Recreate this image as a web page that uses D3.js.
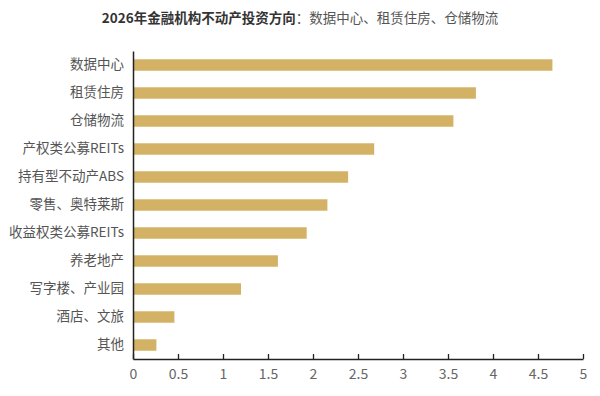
<!DOCTYPE html>
<html>
<head>
<meta charset="utf-8">
<script src="https://cdn.jsdelivr.net/npm/d3@7"></script>
<style>
  body { margin: 0; background: #fff; }
  text { font-family: "Microsoft YaHei", "Noto Sans CJK SC", sans-serif; }
</style>
</head>
<body>
<div id="chart"></div>
<script>
// categories and values
const categories = ["数据中心", "租赁住房", "仓储物流", "产权类公募REITs", "持有型不动产ABS",
  "零售、奥特莱斯", "收益权类公募REITs", "养老地产", "写字楼、产业园", "酒店、文旅", "其他"];
const values = [4.66, 3.81, 3.56, 2.68, 2.39, 2.16, 1.93, 1.61, 1.20, 0.46, 0.26];
const xTicks = [0, 0.5, 1, 1.5, 2, 2.5, 3, 3.5, 4, 4.5, 5];

const width = 600, height = 396;
const margin = { top: 51, right: 17, bottom: 37, left: 133 };

const svg = d3.select("#chart").append("svg")
  .attr("width", width)
  .attr("height", height);

const x = d3.scaleLinear().domain([0, 5]).range([margin.left, width - margin.right]);
const y = d3.scaleBand().domain(categories)
  .range([margin.top, height - margin.bottom])
  .paddingInner(0.59).paddingOuter(0.295);

// title
const title = svg.append("text")
  .attr("x", 300).attr("y", 23)
  .attr("text-anchor", "middle")
  .style("font-size", "13.5px");
title.append("tspan").attr("font-weight", "bold").attr("fill", "#333").text("2026年金融机构不动产投资方向");
title.append("tspan").attr("fill", "#555").text("：数据中心、租赁住房、仓储物流");

// bars
svg.selectAll(".bar")
  .data(categories)
  .enter()
  .append("rect")
  .attr("class", "bar")
  .attr("x", x(0))
  .attr("y", d => y(d))
  .attr("width", (d, i) => x(values[i]) - x(0))
  .attr("height", y.bandwidth())
  .attr("fill", "#d3b266");

// x axis, ticks pointing up
const xAxis = svg.append("g")
  .attr("transform", `translate(0,${height - margin.bottom})`)
  .call(d3.axisBottom(x).tickValues(xTicks).tickSizeInner(-5).tickSizeOuter(0).tickPadding(10).tickFormat(d3.format("")));
xAxis.select(".domain").attr("stroke", "#222").attr("stroke-width", 1.5);
xAxis.selectAll(".tick line").attr("stroke", "#222").attr("stroke-width", 1.3);
xAxis.selectAll(".tick text").attr("fill", "#666").style("font-size", "14px")
  .attr("dy", "0.71em").attr("y", 10);

// y axis
const yAxis = svg.append("g")
  .attr("transform", `translate(${margin.left},0)`)
  .call(d3.axisLeft(y).tickSize(0).tickPadding(9));
yAxis.select(".domain").attr("stroke", "#222").attr("stroke-width", 1.5);
yAxis.selectAll(".tick text").attr("fill", "#555").style("font-size", "13.5px");
</script>
</body>
</html>
